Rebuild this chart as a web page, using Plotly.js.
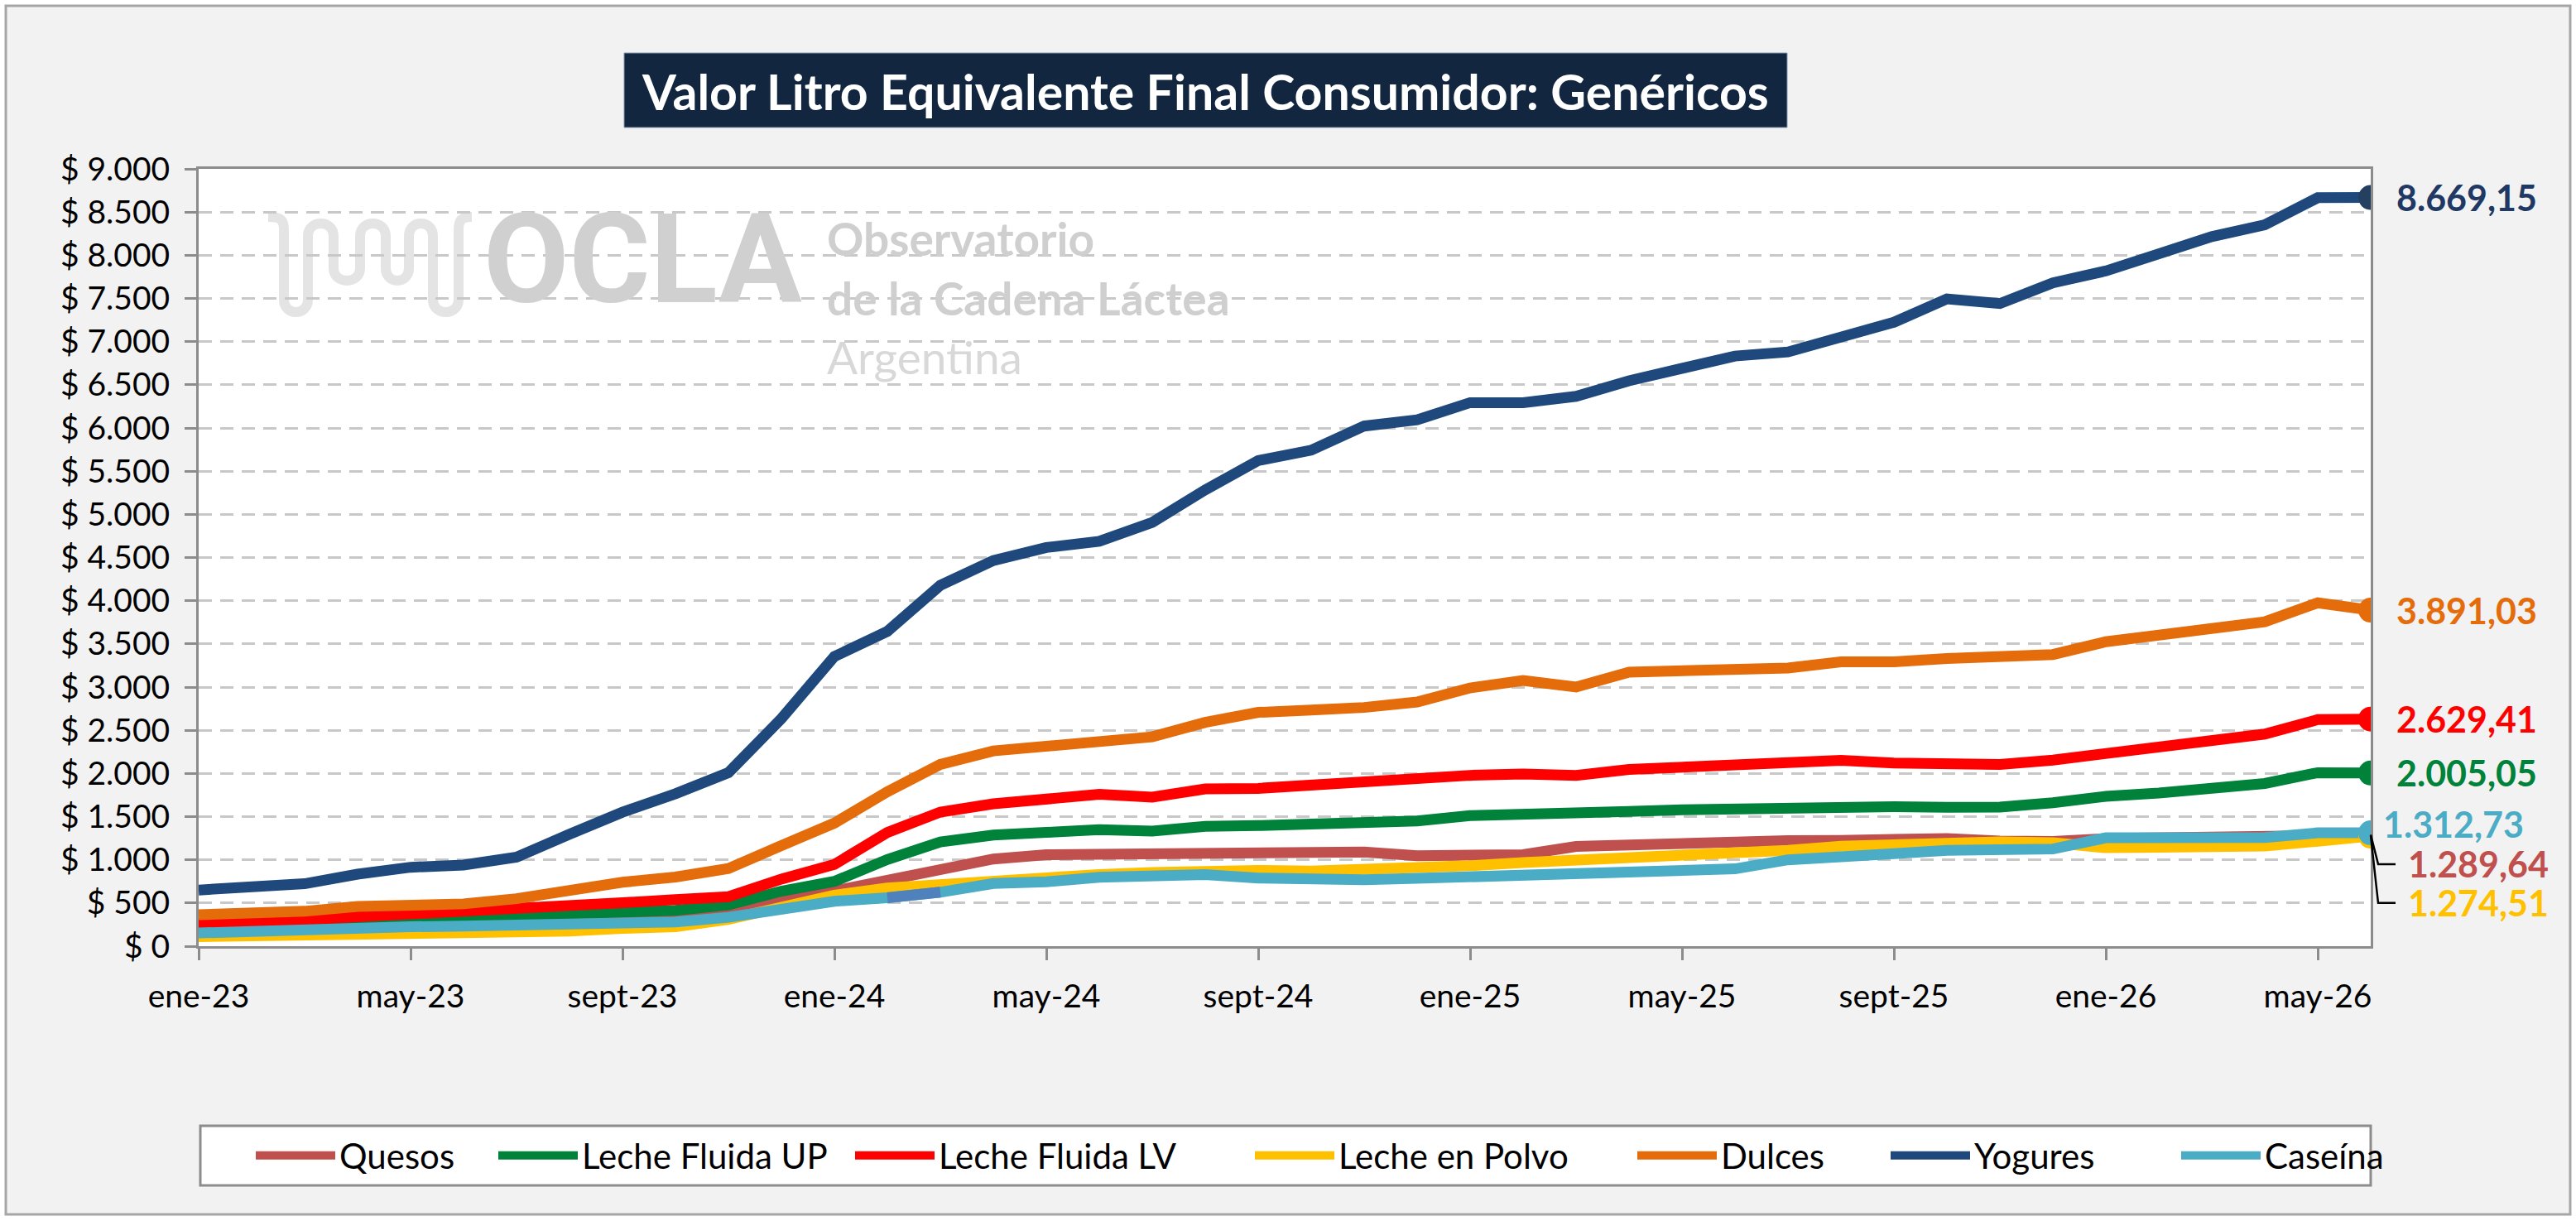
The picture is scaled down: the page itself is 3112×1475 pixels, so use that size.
<!DOCTYPE html>
<html>
<head>
<meta charset="utf-8">
<script src="https://cdn.plot.ly/plotly-3.0.1.min.js"></script>
<style>
  html, body { margin: 0; padding: 0; background: #ffffff; }
  #chart { width: 3112px; height: 1475px; }
</style>
</head>
<body>
<div id="chart"></div>
<script>
// monthly series, ene-23 .. jun-26
var months = ['ene-23','feb-23','mar-23','abr-23','may-23','jun-23','jul-23','ago-23','sept-23','oct-23','nov-23','dic-23',
              'ene-24','feb-24','mar-24','abr-24','may-24','jun-24','jul-24','ago-24','sept-24','oct-24','nov-24','dic-24',
              'ene-25','feb-25','mar-25','abr-25','may-25','jun-25','jul-25','ago-25','sept-25','oct-25','nov-25','dic-25',
              'ene-26','feb-26','mar-26','abr-26','may-26','jun-26'];

var quesos = [175, 190, 205, 218, 230, 240, 255, 275, 300, 320, 395, 520, 660,
              783, 908, 1009, 1059, 1066, 1081, 1090, 1097, 1100, 1090, 1048,
              1045, 1060, 1155, 1175, 1190, 1222, 1222, 1225, 1235, 1247, 1218,
              1212, 1245, 1250, 1265, 1270, 1285, 1289.64];
var lecheUP = [230, 265, 287, 300, 319, 330, 345, 365, 392, 414, 478, 637, 750,
               1003, 1207, 1286, 1317, 1349, 1333, 1387, 1396, 1418, 1443, 1449,
               1512, 1522, 1522, 1560, 1579, 1591, 1622, 1632, 1616, 1607, 1610,
               1660, 1735, 1773, 1821, 1884, 2009, 2005.05];
var lecheLV = [263, 277, 305, 341, 372, 380, 424, 470, 503, 540, 573, 777, 946,
               1317, 1553, 1648, 1695, 1758, 1726, 1821, 1827, 1868, 1905, 1921,
               1978, 1993, 1978, 2047, 2072, 2094, 2129, 2151, 2120, 2120, 2104,
               2155, 2230, 2302, 2387, 2456, 2623, 2629.41];
var lechePolvo = [110, 115, 120, 125, 130, 140, 150, 175, 205, 225, 310, 440, 590,
                  673, 720, 767, 789, 830, 852, 871, 877, 871, 883, 902,
                  931, 969, 994, 1025, 1057, 1088, 1110, 1157, 1182, 1198, 1208,
                  1198, 1140, 1145, 1150, 1160, 1215, 1274.51];
var dulces = [365, 382, 404, 459, 484, 490, 550, 660, 740, 800, 900, 1165, 1425,
              1789, 2104, 2261, 2324, 2387, 2424, 2591, 2707, 2733, 2764, 2827,
              2990, 3075, 3000, 3173, 3189, 3195, 3220, 3292, 3292, 3330, 3340,
              3377, 3525, 3597, 3682, 3755, 3975, 3891.03];
var yogures = [650, 690, 723, 834, 914, 940, 1030, 1296, 1551, 1765, 2009, 2635, 3354,
               3645, 4179, 4465, 4616, 4688, 4906, 5283, 5623, 5743, 6022, 6094,
               6293, 6293, 6366, 6547, 6692, 6833, 6880, 7061, 7224, 7494, 7440,
               7681, 7818, 8017, 8215, 8352, 8666, 8669.15];
var caseina = [153, 178, 203, 215, 225, 232, 240, 253, 266, 280, 334, 440, 520,
               560, 625, 726, 745, 798, 814, 830, 789, 765, 770, 785,
               805, 818, 830, 852, 872, 895, 1000, 1025, 1070, 1110, 1125,
               1125, 1255, 1255, 1255, 1258, 1312, 1312.73];

var seriesNames = ['Quesos', 'Leche Fluida UP', 'Leche Fluida LV', 'Leche en Polvo', 'Dulces', 'Yogures', 'Caseína'];
var seriesColors = ['#C0504D', '#00823B', '#FF0000', '#FFC000', '#E46C0A', '#1F497D', '#4BACC6'];
var endLabels = ['1.289,64', '2.005,05', '2.629,41', '1.274,51', '3.891,03', '8.669,15', '1.312,73'];

var xTickVals = ['ene-23','may-23','sept-23','ene-24','may-24','sept-24','ene-25','may-25','sept-25','ene-26','may-26'];
var yTickVals = [0, 500, 1000, 1500, 2000, 2500, 3000, 3500, 4000, 4500, 5000, 5500, 6000, 6500, 7000, 7500, 8000, 8500, 9000];
var yTickText = ['$ 0','$ 500','$ 1.000','$ 1.500','$ 2.000','$ 2.500','$ 3.000','$ 3.500','$ 4.000','$ 4.500',
                 '$ 5.000','$ 5.500','$ 6.000','$ 6.500','$ 7.000','$ 7.500','$ 8.000','$ 8.500','$ 9.000'];

var allSeries = [quesos, lecheUP, lecheLV, lechePolvo, dulces, yogures, caseina];

// page geometry (pixels) -> paper coords
var W = 3112, H = 1475, PL = 240, PR = 2864, PT = 204, PB = 1143;
function px(x) { return (x - PL) / (PR - PL); }
function py(y) { return (PB - y) / (PB - PT); }

var FONT = 'Lato, "Open Sans", sans-serif';

// each legend entry gets its own legend box so spacing follows the original
var legendLineStart = [312, 605, 1036, 1519, 1981, 2287, 2638];
var legendIds = ['legend', 'legend2', 'legend3', 'legend4', 'legend5', 'legend6', 'legend7'];

var data = [];
for (var i = 0; i < allSeries.length; i++) {
  data.push({
    type: 'scatter', mode: 'lines',
    x: months, y: allSeries[i],
    name: seriesNames[i],
    legend: legendIds[i],
    line: { color: seriesColors[i], width: 13 }
  });
}
// darker segment on Caseína (feb-24 -> mar-24)
data.push({
  type: 'scatter', mode: 'lines',
  x: months.slice(13, 15), y: caseina.slice(13, 15),
  line: { color: '#4F81BD', width: 13 }, showlegend: false, hoverinfo: 'skip'
});
// end markers
for (var i = 0; i < allSeries.length; i++) {
  var n = allSeries[i].length - 1;
  data.push({
    type: 'scatter', mode: 'markers',
    x: [months[n]], y: [allSeries[i][n]],
    marker: { color: i == 5 ? '#243F60' : seriesColors[i], size: 30 },
    showlegend: false
  });
}

var annotations = [];
// title
annotations.push({
  xref: 'paper', yref: 'paper', x: px(1456), y: py(110), showarrow: false,
  text: '<b>Valor Litro Equivalente Final Consumidor: Genéricos</b>',
  font: { family: FONT, size: 59, color: '#ffffff' }, xanchor: 'center', yanchor: 'middle'
});
// watermark
annotations.push({
  xref: 'paper', yref: 'paper', x: px(582), y: py(314), showarrow: false, xanchor: 'left', yanchor: 'middle',
  text: '<b>OCLA</b>', font: { family: 'Roboto, sans-serif', size: 150, color: '#D0D0D0' }
});
annotations.push({
  xref: 'paper', yref: 'paper', x: px(998), y: py(254), showarrow: false, xanchor: 'left', yanchor: 'top',
  align: 'left', borderpad: 0,
  text: '<b>Observatorio</b><br><b>de la Cadena Láctea</b><br><span style="color:#D8D8D8">Argentina</span>',
  font: { family: FONT, size: 55, color: '#CFCFCF' }
});
// end value labels
var labelY = [950, 2005.05, 2629.41, 500, 3891.03, 8669.15, 1410];
var labelShift = [44, 30, 30, 44, 30, 30, 14];
for (var i = 0; i < allSeries.length; i++) {
  annotations.push({
    xref: 'paper', yref: 'y', x: 1, y: labelY[i], xshift: labelShift[i], showarrow: false,
    xanchor: 'left', yanchor: 'middle', text: '<b>' + endLabels[i] + '</b>', borderpad: 0,
    font: { family: FONT, size: 43, color: i == 5 ? '#1F3864' : seriesColors[i] }
  });
}

function yp(v) { return v / 9000; }
var shapes = [
  // outer chart frame
  { type: 'rect', xref: 'paper', yref: 'paper', x0: px(7), x1: px(3105), y0: py(1467), y1: py(7),
    fillcolor: '#F2F2F2', line: { color: '#A6A6A6', width: 3 }, layer: 'below' },
  // plot area
  { type: 'rect', xref: 'paper', yref: 'paper', x0: 0, x1: 1, y0: 0, y1: 1,
    fillcolor: '#FFFFFF', line: { width: 0 }, layer: 'below' },
  // title box
  { type: 'rect', xref: 'paper', yref: 'paper', x0: px(754), x1: px(2159), y0: py(154), y1: py(64),
    fillcolor: '#12263F', line: { color: '#8497B0', width: 1 }, layer: 'below' },
  // legend box
  { type: 'rect', xref: 'paper', yref: 'paper', x0: px(242), x1: px(2864), y0: py(1432), y1: py(1360),
    fillcolor: '#FFFFFF', line: { color: '#8C8C8C', width: 3 }, layer: 'below' },
  // leader lines to the stacked labels
  { type: 'path', xref: 'paper', yref: 'paper', layer: 'above', line: { color: '#000000', width: 2.5 },
    path: 'M ' + px(2864) + ',' + yp(1290) + ' L ' + px(2873) + ',' + yp(950) + ' L ' + px(2894) + ',' + yp(950) },
  { type: 'path', xref: 'paper', yref: 'paper', layer: 'above', line: { color: '#000000', width: 2.5 },
    path: 'M ' + px(2864) + ',' + yp(1280) + ' L ' + px(2873) + ',' + yp(500) + ' L ' + px(2894) + ',' + yp(500) }
];

// OCLA squiggle logo, pixel path converted to paper coords
var sq = [
  ['M', 324, 262],
  ['C', 340, 262, 343, 266, 343, 278],
  ['L', 343, 362], ['C', 343, 382, 372, 382, 372, 362],
  ['L', 372, 285], ['C', 372, 265, 403, 265, 403, 285],
  ['L', 403, 324], ['C', 403, 344, 435, 344, 435, 324],
  ['L', 435, 285], ['C', 435, 265, 466, 265, 466, 285],
  ['L', 466, 324], ['C', 466, 344, 494, 344, 494, 324],
  ['L', 494, 285], ['C', 494, 265, 523, 265, 523, 285],
  ['L', 523, 362], ['C', 523, 382, 554, 382, 554, 362],
  ['L', 554, 278], ['C', 554, 266, 557, 262, 570, 262]
];
var sqPath = '';
for (var k = 0; k < sq.length; k++) {
  sqPath += sq[k][0];
  for (var j = 1; j < sq[k].length; j += 2) sqPath += ' ' + px(sq[k][j]) + ',' + py(sq[k][j + 1]);
  sqPath += ' ';
}
shapes.push({ type: 'path', xref: 'paper', yref: 'paper', layer: 'below', path: sqPath,
  line: { color: '#E4E4E4', width: 12 } });

var layout = {
  width: W, height: H,
  margin: { l: PL, r: W - PR, t: PT, b: H - PB },
  paper_bgcolor: '#FFFFFF',
  plot_bgcolor: 'rgba(0,0,0,0)',
  font: { family: FONT, color: '#000000' },
  showlegend: true,
  xaxis: {
    type: 'category', categoryorder: 'array', categoryarray: months,
    range: [0, months.length - 1],
    tickvals: xTickVals, ticktext: xTickVals,
    ticks: 'outside', ticklen: 14, tickwidth: 3, tickcolor: '#8C8C8C',
    ticklabelstandoff: 10,
    tickfont: { family: FONT, size: 39, color: '#000000' },
    showline: true, linecolor: '#8C8C8C', linewidth: 3, mirror: true,
    showgrid: false, zeroline: false, tickangle: 0
  },
  yaxis: {
    range: [0, 9000],
    tickvals: yTickVals, ticktext: yTickText,
    ticks: 'outside', ticklen: 14, tickwidth: 3, tickcolor: '#8C8C8C',
    ticklabelstandoff: 10,
    tickfont: { family: FONT, size: 39, color: '#000000' },
    showline: true, linecolor: '#8C8C8C', linewidth: 3, mirror: true,
    showgrid: true, gridcolor: '#C8C8C8', gridwidth: 3, griddash: '16px,10px',
    zeroline: false
  },
  annotations: annotations,
  shapes: shapes
};
for (var i = 0; i < legendIds.length; i++) {
  layout[legendIds[i]] = {
    orientation: 'h', x: px(legendLineStart[i] - 8), xanchor: 'left', y: py(1396), yanchor: 'middle',
    bgcolor: 'rgba(0,0,0,0)', borderwidth: 0,
    font: { family: FONT, size: 42, color: '#000000' },
    itemwidth: 96
  };
}

Plotly.newPlot('chart', data, layout, { displayModeBar: false, staticPlot: true });
</script>
</body>
</html>
